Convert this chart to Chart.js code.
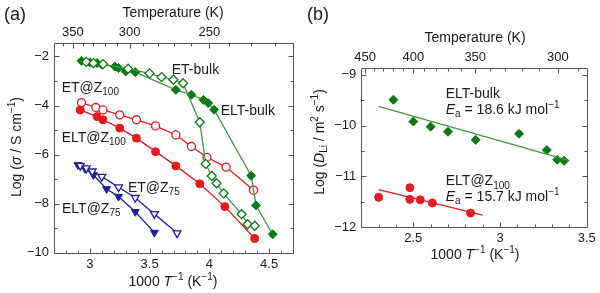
<!DOCTYPE html>
<html>
<head>
<meta charset="utf-8">
<script src="https://cdn.jsdelivr.net/npm/chart.js@4/dist/chart.umd.min.js"></script>
<style>
  html, body { margin: 0; padding: 0; background: #fff; }
  #wrap { position: relative; width: 600px; height: 293px; }
  canvas { position: absolute; top: 0; }
</style>
</head>
<body>
<div id="wrap">
  <canvas id="pa" width="300" height="293" style="left:0"></canvas>
  <canvas id="pb" width="300" height="293" style="left:300px"></canvas>
</div>
<script>
// ---- panel (a): log conductivity vs 1000/T ----
const eltBulkX = [2.93, 3.00, 3.06, 3.10, 3.21, 3.24, 3.30, 3.38, 3.72, 3.85, 3.95, 3.99, 4.04, 4.35, 4.39, 4.53];
const eltBulkY = [-2.18, -2.24, -2.27, -2.33, -2.41, -2.47, -2.61, -2.64, -3.36, -3.56, -3.77, -3.90, -4.17, -6.86, -8.07, -9.25];
const etBulkX = [2.97, 3.03, 3.11, 3.32, 3.50, 3.60, 3.70, 3.78, 3.92, 3.97, 4.02, 4.06, 4.12, 4.27, 4.32, 4.38];
const etBulkY = [-2.22, -2.27, -2.31, -2.50, -2.69, -2.84, -2.95, -3.09, -4.68, -6.38, -6.87, -7.17, -7.58, -8.43, -8.84, -8.90];
const etZ100X = [2.93, 3.05, 3.11, 3.25, 3.39, 3.55, 3.72, 3.85, 3.98, 4.14, 4.37];
const etZ100Y = [-3.88, -4.08, -4.18, -4.38, -4.58, -4.83, -5.20, -5.67, -6.11, -6.51, -7.45];
const eltZ100X = [2.92, 3.06, 3.11, 3.25, 3.39, 3.55, 3.72, 3.92, 4.13, 4.38];
const eltZ100Y = [-4.18, -4.45, -4.58, -4.92, -5.33, -5.88, -6.46, -7.19, -8.12, -9.42];
const etZ75X = [2.92, 2.97, 3.02, 3.10, 3.24, 3.38, 3.54, 3.73];
const etZ75Y = [-6.45, -6.55, -6.68, -6.90, -7.33, -7.76, -8.42, -9.20];
const eltZ75X = [2.90, 2.96, 3.03, 3.14, 3.24, 3.38, 3.54];
const eltZ75Y = [-6.42, -6.58, -6.83, -7.40, -7.71, -8.33, -9.18];

const aXLabels = [3, 3.5, 4, 4.5];
const aYLabels = [-10, -8, -6, -4, -2];
const aTempTicks = [360, 350, 340, 330, 320, 310, 300, 290, 280, 270, 260, 250, 240, 230, 220];
const aTempLabels = [350, 300, 250];

// ---- panel (b): log diffusion coefficient vs 1000/T ----
const bBulkX = [2.385, 2.50, 2.60, 2.70, 2.86, 3.11, 3.27, 3.33, 3.37];
const bBulkY = [-9.49, -9.92, -10.02, -10.12, -10.28, -10.16, -10.48, -10.67, -10.69];
const bZ100X = [2.30, 2.48, 2.48, 2.54, 2.61, 2.83];
const bZ100Y = [-11.41, -11.22, -11.45, -11.46, -11.52, -11.72];
const bBulkFitX = [2.30, 3.40];
const bBulkFitY = [-9.62, -10.69];
const bZ100FitX = [2.30, 2.90];
const bZ100FitY = [-11.26, -11.76];

const bXLabels = [2.5, 3, 3.5];
const bYLabels = [-12, -11, -10, -9];
const bTempTicks = [450, 440, 430, 420, 410, 400, 390, 380, 370, 360, 350, 340, 330, 320, 310, 300, 290];
const bTempLabels = [450, 400, 350, 300];

const FONT = '"Liberation Sans", Arial, sans-serif';
const TXT = '#1a1a1a';
const GREEN = '#0b7a12', GREEN_L = '#3f9a3f';
const RED = '#e8191f', BLUE = '#1c1ca6';

const zip = (xs, ys) => xs.map((x, i) => ({x: x, y: ys[i]}));
const has = (arr, v) => arr.some(a => Math.abs(a - v) < 1e-6);
const minus = (s) => String(s).replace('-', '\u2212');

function series(xs, ys, color, lineColor, style, open, r, rot) {
  return {
    data: zip(xs, ys), showLine: true, borderColor: lineColor, borderWidth: 1.3,
    pointStyle: style, pointRotation: rot || 0, pointRadius: r,
    pointBorderColor: color, pointBackgroundColor: open ? '#fff' : color,
    pointBorderWidth: open ? 1.3 : 1, tension: 0
  };
}

// draw text made of plain / italic / sup / sub pieces
function rich(ctx, parts, x, y, size, align, rot) {
  const fnt = (s) => (s === 'i' ? 'italic ' : '') + ((s === 'sup' || s === 'sub') ? Math.round(size * 0.72) : size) + 'px ' + FONT;
  let w = 0;
  parts.forEach(([t, s]) => { ctx.font = fnt(s); w += ctx.measureText(t).width; });
  ctx.save();
  ctx.translate(x, y);
  if (rot) ctx.rotate(rot);
  ctx.fillStyle = TXT;
  ctx.textAlign = 'left';
  ctx.textBaseline = 'middle';
  let cx = align === 'center' ? -w / 2 : 0;
  parts.forEach(([t, s]) => {
    ctx.font = fnt(s);
    const dy = s === 'sup' ? -size * 0.33 : s === 'sub' ? size * 0.3 : 0;
    ctx.fillText(t, cx, dy);
    cx += ctx.measureText(t).width;
  });
  ctx.restore();
}

function line(ctx, x1, y1, x2, y2) {
  ctx.beginPath();
  ctx.moveTo(x1, y1);
  ctx.lineTo(x2, y2);
  ctx.stroke();
}

// frame, inward ticks, titles and labels
function decor(opts) {
  return {
    id: 'decor',
    afterDraw(chart) {
      const ctx = chart.ctx, a = chart.chartArea;
      const sx = chart.scales.x, sy = chart.scales.y, st = chart.scales.xt;
      const L = Math.round(a.left) + 0.5, R = Math.round(a.right) + 0.5;
      const T = Math.round(a.top) + 0.5, B = Math.round(a.bottom) + 0.5;
      ctx.save();
      ctx.globalAlpha = 1;
      ctx.globalCompositeOperation = 'source-over';
      ctx.setLineDash([]);
      ctx.strokeStyle = '#555555';
      ctx.lineWidth = 1;
      sx.ticks.forEach(t => {
        const p = Math.round(sx.getPixelForValue(t.value)) + 0.5, l = t.label ? 5 : 3;
        line(ctx, p, B, p, B - l);
      });
      st.ticks.forEach(t => {
        const p = Math.round(st.getPixelForValue(t.value)) + 0.5, l = t.label ? 5 : 3;
        line(ctx, p, T, p, T + l);
      });
      sy.ticks.forEach(t => {
        const p = Math.round(sy.getPixelForValue(t.value)) + 0.5, l = t.label ? 5 : 3;
        line(ctx, L, p, L + l, p);
        line(ctx, R, p, R - l, p);
      });
      ctx.beginPath();
      ctx.rect(L, T, R - L, B - T);
      ctx.stroke();
      ctx.restore();

      rich(ctx, [[opts.tag, '']], opts.tagX, 15, 18, 'left');
      rich(ctx, [['Temperature (K)', '']], opts.midX, opts.tempY, 14, 'center');
      rich(ctx, [['1000 ', ''], ['T', 'i'], ['\u22121', 'sup'], [' (K', ''], ['\u22121', 'sup'], [')', '']], opts.midX, opts.xTitleY, 14, 'center');
      rich(ctx, opts.yTitle, opts.yTitleX, opts.yTitleY, 14, 'center', -Math.PI / 2);
      opts.notes.forEach(n => {
        rich(ctx, n.parts, sx.getPixelForValue(n.x), sy.getPixelForValue(n.y), 14, 'left');
      });
    }
  };
}

function makeChart(id, cfg) {
  const noGrid = {display: false, drawTicks: false, tickLength: 0};
  return new Chart(document.getElementById(id), {
    type: 'scatter',
    data: {datasets: cfg.datasets},
    options: {
      responsive: false, animation: false, devicePixelRatio: 1,
      layout: {padding: {left: 0, top: 0, right: cfg.padRight, bottom: 0}},
      plugins: {legend: {display: false}, tooltip: {enabled: false}},
      scales: {
        x: {
          type: 'linear', position: 'bottom', min: cfg.xMin, max: cfg.xMax,
          grid: noGrid, border: {display: false},
          ticks: {
            stepSize: 0.1, autoSkip: false, includeBounds: false, maxRotation: 0, padding: cfg.xPad, color: TXT,
            font: {family: FONT, size: 13},
            callback: (v) => has(cfg.xLabels, v) ? String(v) : ''
          },
          afterFit: (s) => { s.height = cfg.bottomH; }
        },
        xt: {
          type: 'linear', position: 'top', min: cfg.xMin, max: cfg.xMax,
          grid: noGrid, border: {display: false},
          afterBuildTicks: (s) => { s.ticks = cfg.tempTicks.map(T => ({value: 1000 / T})); },
          ticks: {
            autoSkip: false, maxRotation: 0, padding: cfg.tPad, color: TXT,
            font: {family: FONT, size: 13},
            callback: (v) => { const T = Math.round(1000 / v); return cfg.tempLabels.includes(T) ? String(T) : ''; }
          },
          afterFit: (s) => { s.height = cfg.topH; }
        },
        y: {
          type: 'linear', position: 'left', min: cfg.yMin, max: cfg.yMax,
          grid: noGrid, border: {display: false},
          ticks: {
            stepSize: cfg.yStep, autoSkip: false, includeBounds: false, padding: 5, color: TXT,
            font: {family: FONT, size: 13},
            callback: (v) => has(cfg.yLabels, v) ? minus(v) : ''
          },
          afterFit: (s) => { s.width = cfg.leftW; }
        }
      }
    },
    plugins: [decor(cfg.decor)]
  });
}

makeChart('pa', {
  xMin: 2.7, xMax: 4.7, yMin: -10, yMax: -1.45, yStep: 1,
  xLabels: aXLabels, yLabels: aYLabels, tempTicks: aTempTicks, tempLabels: aTempLabels,
  padRight: 7, leftW: 54, topH: 43, bottomH: 40.3, xPad: 4, tPad: 3,
  datasets: [
    series(etBulkX, etBulkY, GREEN, GREEN_L, 'rectRot', true, 4.5),
    series(eltBulkX, eltBulkY, GREEN, GREEN_L, 'rectRot', false, 4.5),
    series(etZ100X, etZ100Y, RED, RED, 'circle', true, 4),
    series(eltZ100X, eltZ100Y, RED, RED, 'circle', false, 4),
    series(etZ75X, etZ75Y, BLUE, BLUE, 'triangle', true, 4.5, 180),
    series(eltZ75X, eltZ75Y, BLUE, BLUE, 'triangle', false, 4.5, 180)
  ],
  decor: {
    tag: '(a)', tagX: 4, midX: 173, tempY: 13, xTitleY: 282,
    yTitle: [['Log (', ''], ['\u03c3', 'i'], [' / S cm', ''], ['\u22121', 'sup'], [')', '']],
    yTitleX: 17, yTitleY: 147,
    notes: [
      {x: 3.685, y: -2.57, parts: [['ET-bulk', '']]},
      {x: 4.095, y: -4.24, parts: [['ELT-bulk', '']]},
      {x: 2.764, y: -3.28, parts: [['ET@Z', ''], ['100', 'sub']]},
      {x: 2.764, y: -5.32, parts: [['ELT@Z', ''], ['100', 'sub']]},
      {x: 3.319, y: -7.36, parts: [['ET@Z', ''], ['75', 'sub']]},
      {x: 2.767, y: -8.22, parts: [['ELT@Z', ''], ['75', 'sub']]}
    ]
  }
});

makeChart('pb', {
  xMin: 2.2, xMax: 3.5, yMin: -12, yMax: -8.86, yStep: 0.5,
  xLabels: bXLabels, yLabels: bYLabels, tempTicks: bTempTicks, tempLabels: bTempLabels,
  padRight: 13.3, leftW: 61.3, topH: 67.7, bottomH: 65.7, xPad: 3, tPad: 2,
  datasets: [
    {data: zip(bBulkFitX, bBulkFitY), showLine: true, borderColor: GREEN_L, borderWidth: 1.3, pointRadius: 0},
    {data: zip(bZ100FitX, bZ100FitY), showLine: true, borderColor: RED, borderWidth: 1.3, pointRadius: 0},
    {data: zip(bBulkX, bBulkY), showLine: false, pointStyle: 'rectRot', pointRadius: 4.5,
     pointBackgroundColor: GREEN, pointBorderColor: GREEN},
    {data: zip(bZ100X, bZ100Y), showLine: false, pointStyle: 'circle', pointRadius: 4,
     pointBackgroundColor: RED, pointBorderColor: RED}
  ],
  decor: {
    tag: '(b)', tagX: 7, midX: 175, tempY: 38, xTitleY: 255,
    yTitle: [['Log (', ''], ['D', 'i'], ['Li', 'sub'], [' / m', ''], ['2', 'sup'], [' s', ''], ['\u22121', 'sup'], [')', '']],
    yTitleX: 20, yTitleY: 142,
    notes: [
      {x: 2.687, y: -9.39, parts: [['ELT-bulk', '']]},
      {x: 2.687, y: -9.69, parts: [['E', 'i'], ['a', 'sub'], [' = 18.6 kJ mol', ''], ['\u22121', 'sup']]},
      {x: 2.687, y: -11.10, parts: [['ELT@Z', ''], ['100', 'sub']]},
      {x: 2.687, y: -11.40, parts: [['E', 'i'], ['a', 'sub'], [' = 15.7 kJ mol', ''], ['\u22121', 'sup']]}
    ]
  }
});
</script>
</body>
</html>
